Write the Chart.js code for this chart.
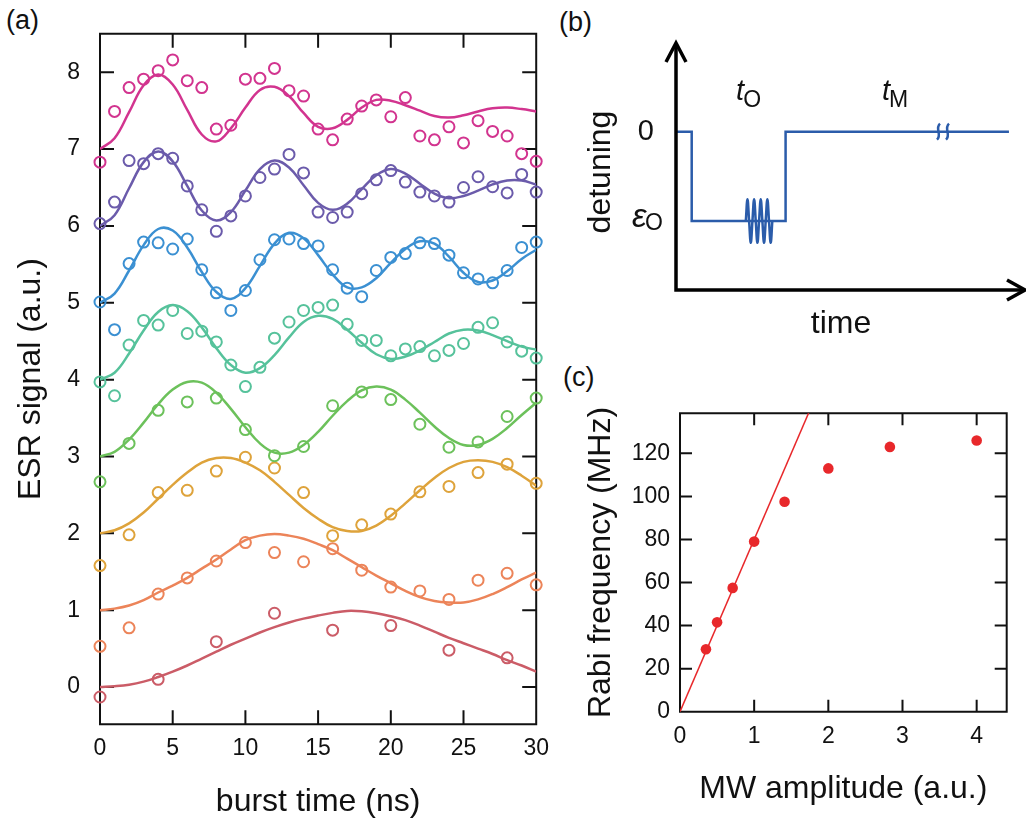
<!DOCTYPE html>
<html>
<head>
<meta charset="utf-8">
<title>ESR Rabi oscillations</title>
<script src="https://cdn.jsdelivr.net/npm/chart.js@4.4.1/dist/chart.umd.min.js"></script>
<style>
  html, body { margin: 0; padding: 0; background: #fff; }
  body { width: 1026px; height: 825px; position: relative; overflow: hidden;
         font-family: "Liberation Sans", Arial, sans-serif; color: #111; }
  canvas { position: absolute; }
  .panel-label { position: absolute; font-size: 27px; line-height: 31px; }
</style>
</head>
<body>
<div class="panel-label" style="left:6px;top:5px">(a)</div>
<div class="panel-label" style="left:559px;top:7px">(b)</div>
<div class="panel-label" style="left:563px;top:362px">(c)</div>
<canvas id="chartA" width="560" height="825" style="left:0;top:0"></canvas>
<canvas id="chartB" width="466" height="345" style="left:560px;top:0"></canvas>
<canvas id="chartC" width="466" height="480" style="left:560px;top:345px"></canvas>

<script>
// ---- panel (a): ESR signal vs burst time, traces offset by 1 ----
var burstTimeTicks = [0, 5, 10, 15, 20, 25, 30];
var esrTicks = [0, 1, 2, 3, 4, 5, 6, 7, 8];

var timeEvery1 = [0, 1, 2, 3, 4, 5, 6, 7, 8, 9, 10, 11, 12, 13, 14, 15, 16, 17, 18, 19, 20, 21, 22, 23, 24, 25, 26, 27, 28, 29, 30];
var timeEvery2 = [0, 2, 4, 6, 8, 10, 12, 14, 16, 18, 20, 22, 24, 26, 28, 30];
var timeEvery4 = [0, 4, 8, 12, 16, 20, 24, 28];

// measured points
var magentaPts = [6.83, 7.49, 7.80, 7.91, 8.02, 8.16, 7.89, 7.80, 7.26, 7.31, 7.91, 7.92, 8.05, 7.76, 7.69, 7.26, 7.12, 7.39, 7.56, 7.64, 7.42, 7.67, 7.17, 7.12, 7.29, 7.08, 7.37, 7.23, 7.17, 6.94, 6.84];
var purplePts = [6.03, 6.31, 6.85, 6.81, 6.94, 6.88, 6.52, 6.21, 5.93, 6.13, 6.39, 6.63, 6.74, 6.93, 6.69, 6.18, 6.11, 6.18, 6.42, 6.60, 6.72, 6.57, 6.44, 6.39, 6.31, 6.50, 6.64, 6.51, 6.43, 6.67, 6.44];
var bluePts = [5.01, 4.65, 5.51, 5.79, 5.78, 5.70, 5.83, 5.43, 5.13, 4.90, 5.16, 5.56, 5.82, 5.83, 5.77, 5.74, 5.43, 5.19, 5.08, 5.42, 5.59, 5.64, 5.78, 5.77, 5.62, 5.39, 5.31, 5.26, 5.42, 5.72, 5.79];
var tealPts = [3.97, 3.79, 4.45, 4.77, 4.71, 4.90, 4.60, 4.63, 4.49, 4.19, 3.91, 4.16, 4.54, 4.75, 4.90, 4.94, 4.97, 4.72, 4.51, 4.51, 4.31, 4.40, 4.43, 4.31, 4.38, 4.47, 4.68, 4.74, 4.49, 4.37, 4.28];
var greenPts = [2.67, 3.17, 3.60, 3.71, 3.76, 3.35, 3.01, 3.13, 3.66, 3.84, 3.74, 3.42, 3.12, 3.19, 3.52, 3.76];
var yellowPts = [1.58, 1.98, 2.53, 2.56, 2.81, 2.99, 2.85, 2.53, 1.97, 2.11, 2.25, 2.54, 2.61, 2.79, 2.90, 2.65];
var salmonPts = [0.53, 0.77, 1.21, 1.42, 1.64, 1.88, 1.75, 1.63, 1.80, 1.52, 1.30, 1.25, 1.14, 1.39, 1.48, 1.33];
var redPts = [-0.13, 0.10, 0.59, 0.96, 0.74, 0.80, 0.48, 0.38];

// fitted curves, read every 1 ns
var magentaFit = [7.00, 7.14, 7.48, 7.83, 7.97, 7.84, 7.51, 7.19, 7.10, 7.27, 7.54, 7.77, 7.81, 7.69, 7.47, 7.29, 7.27, 7.38, 7.54, 7.64, 7.63, 7.57, 7.50, 7.43, 7.41, 7.44, 7.49, 7.53, 7.54, 7.52, 7.49];
var purpleFit = [6.00, 6.14, 6.49, 6.83, 6.97, 6.84, 6.52, 6.20, 6.07, 6.18, 6.46, 6.74, 6.85, 6.76, 6.53, 6.30, 6.21, 6.29, 6.48, 6.66, 6.74, 6.68, 6.55, 6.42, 6.36, 6.39, 6.46, 6.54, 6.59, 6.59, 6.54];
var blueFit = [5.00, 5.12, 5.42, 5.75, 5.96, 5.94, 5.72, 5.40, 5.14, 5.05, 5.19, 5.48, 5.77, 5.91, 5.84, 5.62, 5.37, 5.20, 5.20, 5.32, 5.52, 5.70, 5.80, 5.77, 5.60, 5.39, 5.27, 5.29, 5.41, 5.57, 5.69];
var tealFit = [4.00, 4.09, 4.34, 4.64, 4.88, 4.97, 4.89, 4.68, 4.41, 4.19, 4.09, 4.15, 4.32, 4.55, 4.75, 4.83, 4.79, 4.65, 4.48, 4.33, 4.27, 4.30, 4.38, 4.49, 4.60, 4.65, 4.64, 4.58, 4.50, 4.43, 4.39];
var greenFit = [3.00, 3.06, 3.22, 3.44, 3.68, 3.87, 3.97, 3.96, 3.83, 3.62, 3.38, 3.17, 3.05, 3.05, 3.15, 3.32, 3.53, 3.72, 3.86, 3.91, 3.87, 3.74, 3.57, 3.39, 3.24, 3.15, 3.15, 3.23, 3.37, 3.54, 3.70];
var yellowFit = [2.00, 2.04, 2.13, 2.27, 2.45, 2.63, 2.79, 2.92, 2.98, 2.98, 2.92, 2.82, 2.67, 2.50, 2.33, 2.19, 2.08, 2.03, 2.03, 2.10, 2.23, 2.39, 2.56, 2.72, 2.85, 2.93, 2.95, 2.93, 2.86, 2.75, 2.62];
var salmonFit = [1.00, 1.02, 1.06, 1.13, 1.23, 1.32, 1.42, 1.54, 1.66, 1.79, 1.91, 1.97, 1.99, 1.97, 1.93, 1.86, 1.78, 1.67, 1.56, 1.45, 1.35, 1.25, 1.17, 1.12, 1.10, 1.10, 1.14, 1.21, 1.30, 1.40, 1.49];
var redFit = [0.00, 0.01, 0.03, 0.07, 0.13, 0.20, 0.28, 0.37, 0.46, 0.55, 0.63, 0.71, 0.78, 0.84, 0.89, 0.93, 0.965, 0.99, 0.985, 0.96, 0.92, 0.87, 0.80, 0.72, 0.64, 0.57, 0.50, 0.43, 0.35, 0.28, 0.20];

// ---- panel (b): pulse schematic (arbitrary units) ----
var pulseTime = [0, 4.5, 4.5, 31.4, 31.4, 95.4];
var pulseLevel = [64.1, 64.1, 27.9, 27.9, 64.1, 64.1];
var burstX = [20.0, 20.48, 20.95, 21.43, 21.9, 22.38, 22.85, 23.33, 23.8, 24.28, 24.75, 25.23, 25.7, 26.18, 26.65, 27.13, 27.6];
var burstY = [27.9, 36.7, 27.9, 19.1, 27.9, 36.7, 27.9, 19.1, 27.9, 36.7, 27.9, 19.1, 27.9, 36.7, 27.9, 19.1, 27.9];

// ---- panel (c): Rabi frequency vs MW amplitude ----
var mwTicks = [0, 1, 2, 3, 4];
var rabiTicks = [0, 20, 40, 60, 80, 100, 120];
var mwAmplitude = [0.35, 0.5, 0.71, 1.0, 1.41, 2.0, 2.83, 4.0];
var rabiFreq = [29, 41.5, 57.5, 79, 97.5, 113, 123, 126];
var lineFitX = [0, 2];
var lineFitY = [0, 160];

var FONT = '"Liberation Sans", Arial, sans-serif';
var INK = '#111';
Chart.defaults.font.family = FONT;
Chart.defaults.color = INK;

function pairs(xs, ys) {
  var out = [];
  for (var i = 0; i < ys.length; i++) out.push({ x: xs[i], y: ys[i] });
  return out;
}

function fixedTicks(values) {
  return function (scale) {
    scale.ticks = values.map(function (v) { return { value: v }; });
  };
}

// box frame with inward ticks on all four sides
var framePlugin = {
  id: 'frame',
  beforeDatasetsDraw: function (chart, args, opts) {
    var ctx = chart.ctx, a = chart.chartArea;
    var L = opts.tickLength || 14;
    ctx.save();
    ctx.strokeStyle = INK;
    ctx.lineWidth = opts.lineWidth || 2;
    ctx.beginPath();
    ctx.rect(a.left, a.top, a.right - a.left, a.bottom - a.top);
    chart.scales.x.ticks.forEach(function (t) {
      var px = chart.scales.x.getPixelForValue(t.value);
      ctx.moveTo(px, a.bottom); ctx.lineTo(px, a.bottom - L);
      ctx.moveTo(px, a.top); ctx.lineTo(px, a.top + L);
    });
    chart.scales.y.ticks.forEach(function (t) {
      var py = chart.scales.y.getPixelForValue(t.value);
      ctx.moveTo(a.left, py); ctx.lineTo(a.left + L, py);
      ctx.moveTo(a.right, py); ctx.lineTo(a.right - L, py);
    });
    ctx.stroke();
    ctx.restore();
  }
};

function axisOptions(min, max, ticks, title, fitSize, isX, tickPad, titlePad) {
  var o = {
    type: 'linear', min: min, max: max,
    afterBuildTicks: fixedTicks(ticks),
    grid: { display: false, drawTicks: false },
    border: { display: false },
    ticks: { padding: tickPad, font: { size: 23 }, color: INK },
    title: { display: true, text: title, font: { size: 32 }, color: INK, padding: titlePad }
  };
  if (isX) o.afterFit = function (s) { s.height = fitSize; };
  else o.afterFit = function (s) { s.width = fitSize; };
  return o;
}

// ---- build panel (a) ----
var traces = [
  { t: timeEvery1, pts: magentaPts, fit: magentaFit, color: '#d2348f' },
  { t: timeEvery1, pts: purplePts, fit: purpleFit, color: '#6b5bab' },
  { t: timeEvery1, pts: bluePts, fit: blueFit, color: '#3b90d2' },
  { t: timeEvery1, pts: tealPts, fit: tealFit, color: '#56c29b' },
  { t: timeEvery2, pts: greenPts, fit: greenFit, color: '#6cc15b' },
  { t: timeEvery2, pts: yellowPts, fit: yellowFit, color: '#dea33b' },
  { t: timeEvery2, pts: salmonPts, fit: salmonFit, color: '#ec8459' },
  { t: timeEvery4, pts: redPts, fit: redFit, color: '#cb5c67' }
];

var datasetsA = [];
traces.forEach(function (tr) {
  datasetsA.push({
    data: pairs(tr.t, tr.pts),
    showLine: false,
    pointStyle: 'circle',
    pointRadius: 5.5,
    pointBorderWidth: 2,
    pointBorderColor: tr.color,
    pointBackgroundColor: 'rgba(255,255,255,0)',
    clip: false
  });
  datasetsA.push({
    data: pairs(timeEvery1, tr.fit),
    borderColor: tr.color,
    borderWidth: 2.5,
    pointRadius: 0,
    tension: 0.4,
    fill: false
  });
});

new Chart(document.getElementById('chartA'), {
  type: 'line',
  data: { datasets: datasetsA },
  options: {
    animation: false,
    responsive: false,
    layout: { padding: { top: 5.5, right: 20, left: 0, bottom: 0 } },
    plugins: { legend: { display: false }, tooltip: { enabled: false }, frame: { tickLength: 14, lineWidth: 2 } },
    scales: {
      x: axisOptions(0, 30, burstTimeTicks, 'burst time (ns)', 100.7, true, 11, { top: 0, bottom: 4 }),
      y: axisOptions(-0.485, 8.5, esrTicks, 'ESR signal (a.u.)', 100, false, 20, { top: 12, bottom: 0 })
    }
  },
  plugins: [framePlugin]
});

// ---- build panel (b) ----
var pulseBlue = '#2b5caa';
var schematicPlugin = {
  id: 'schematic',
  afterDatasetsDraw: function (chart) {
    var ctx = chart.ctx, xs = chart.scales.x, ys = chart.scales.y;
    var ox = xs.getPixelForValue(0), oy = ys.getPixelForValue(0);
    var tipX = xs.getPixelForValue(100), tipY = ys.getPixelForValue(100);
    ctx.save();
    // axes with open arrow heads
    ctx.strokeStyle = '#000';
    ctx.lineWidth = 3.5;
    ctx.lineCap = 'butt';
    ctx.lineJoin = 'miter';
    ctx.beginPath();
    ctx.moveTo(ox, tipY + 2); ctx.lineTo(ox, oy); ctx.lineTo(tipX - 2, oy);
    ctx.stroke();
    ctx.beginPath();
    ctx.moveTo(ox - 10, tipY + 19); ctx.lineTo(ox, tipY); ctx.lineTo(ox + 10, tipY + 19);
    ctx.moveTo(tipX - 18, oy - 10); ctx.lineTo(tipX, oy); ctx.lineTo(tipX - 18, oy + 10);
    ctx.stroke();

    // break mark on the measurement level
    var bx = xs.getPixelForValue(76.5), by = ys.getPixelForValue(64.1);
    ctx.strokeStyle = pulseBlue;
    ctx.lineWidth = 2.5;
    [-4.5, 4.5].forEach(function (dx) {
      var cx = bx + dx;
      ctx.beginPath();
      ctx.moveTo(cx + 1.5, by - 8);
      ctx.bezierCurveTo(cx - 4, by - 3, cx + 4, by + 3, cx - 1.5, by + 8);
      ctx.stroke();
    });

    // labels
    var lvl0 = ys.getPixelForValue(64.1), lvlE = ys.getPixelForValue(27.9);
    ctx.fillStyle = INK;
    ctx.textBaseline = 'middle';
    ctx.textAlign = 'right';
    ctx.font = '29px ' + FONT;
    ctx.fillText('0', ox - 22, lvl0);
    ctx.textAlign = 'left';
    ctx.textBaseline = 'alphabetic';
    ctx.font = 'italic 33px ' + FONT;
    ctx.fillText('\u03b5', ox - 44, lvlE + 6);
    ctx.font = '23px ' + FONT;
    ctx.fillText('O', ox - 31, lvlE + 9);

    ctx.font = 'italic 29px ' + FONT;
    ctx.fillText('t', xs.getPixelForValue(17.2), 100);
    ctx.fillText('t', xs.getPixelForValue(59.0), 100);
    ctx.font = '23px ' + FONT;
    ctx.fillText('O', xs.getPixelForValue(19.3), 107);
    ctx.fillText('M', xs.getPixelForValue(61.0), 107);

    ctx.font = '32px ' + FONT;
    ctx.textAlign = 'center';
    ctx.fillText('time', xs.getPixelForValue(47.3), 333);
    ctx.translate(50, 172);
    ctx.rotate(-Math.PI / 2);
    ctx.textBaseline = 'alphabetic';
    ctx.fillText('detuning', 0, 0);
    ctx.restore();
  }
};

new Chart(document.getElementById('chartB'), {
  type: 'line',
  data: {
    datasets: [
      { data: pairs(pulseTime, pulseLevel), borderColor: pulseBlue, borderWidth: 2.5, pointRadius: 0, tension: 0, clip: false },
      { data: pairs(burstX, burstY), borderColor: pulseBlue, borderWidth: 2.5, pointRadius: 0, tension: 0.4, clip: false }
    ]
  },
  options: {
    animation: false,
    responsive: false,
    layout: { padding: { left: 116, right: 1, top: 43, bottom: 55 } },
    plugins: { legend: { display: false }, tooltip: { enabled: false } },
    scales: {
      x: { type: 'linear', min: 0, max: 100, display: false },
      y: { type: 'linear', min: 0, max: 100, display: false }
    }
  },
  plugins: [schematicPlugin]
});

// ---- build panel (c) ----
var rabiRed = '#e8282b';
new Chart(document.getElementById('chartC'), {
  type: 'line',
  data: {
    datasets: [
      { data: pairs(mwAmplitude, rabiFreq), showLine: false, pointRadius: 5.3, pointBorderWidth: 0,
        pointBackgroundColor: rabiRed, pointBorderColor: rabiRed, clip: false },
      { data: pairs(lineFitX, lineFitY), borderColor: rabiRed, borderWidth: 1.5, pointRadius: 0, tension: 0 }
    ]
  },
  options: {
    animation: false,
    responsive: false,
    layout: { padding: { top: 68.3, right: 19.3, left: 0, bottom: 0 } },
    plugins: { legend: { display: false }, tooltip: { enabled: false }, frame: { tickLength: 12, lineWidth: 2 } },
    scales: {
      x: axisOptions(0, 4.405, mwTicks, 'MW amplitude (a.u.)', 113.3, true, 11.5, { top: 0, bottom: 17 }),
      y: axisOptions(0, 138.6, rabiTicks, 'Rabi frequency (MHz)', 120, false, 10, { top: 22, bottom: 0 })
    }
  },
  plugins: [framePlugin]
});
</script>
</body>
</html>
